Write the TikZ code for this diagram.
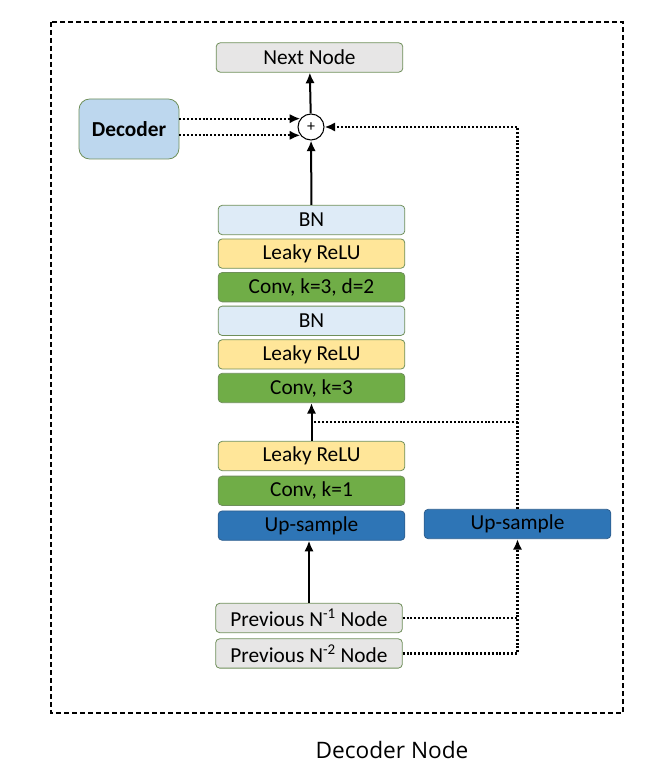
\documentclass[tikz,border=0pt]{standalone}
\usepackage{fontspec}
\setmainfont{Carlito}
\newfontfamily\titlefont{Open Sans}
\usetikzlibrary{positioning, arrows.meta, calc}
\definecolor{edgegreen}{HTML}{6F8F5A}
\definecolor{grayfill}{HTML}{E7E6E6}
\definecolor{bnfill}{HTML}{DEEBF7}
\definecolor{relufill}{HTML}{FFE699}
\definecolor{convfill}{HTML}{70AD47}
\definecolor{upfill}{HTML}{2E75B6}
\definecolor{upedge}{HTML}{2F5F8F}
\definecolor{decfill}{HTML}{BDD7EE}
\tikzset{
    >={Latex[length=8pt,width=7pt]}, % filled arrow heads
    layer/.style={draw=edgegreen, line width=0.6pt, rounded corners=3pt, minimum width=140pt, minimum height=22pt, inner sep=0pt, font=\fontsize{16}{19}\selectfont},
    bnlayer/.style={layer, fill=bnfill},
    relulayer/.style={layer, fill=relufill},
    convlayer/.style={layer, fill=convfill},
    uplayer/.style={layer, fill=upfill, draw=upedge},
    graylayer/.style={layer, fill=grayfill},
    flow/.style={->, line width=1.5pt},
    skip/.style={line width=1.6pt, dash pattern=on 1.5pt off 1.4pt}
}

\begin{document}
\begin{tikzpicture}[x=0.75pt, y=-0.75pt]
        \useasboundingbox (0,0) rectangle (658,780);
        \draw[line width=1.1pt, dash pattern=on 4pt off 2pt] (51,22) rectangle (623,713);

        \node[graylayer] (next) at (309.5,57.5) {Next Node};
        \node[circle, draw, line width=0.8pt, fill=white, minimum size=19.5pt, inner sep=0pt, font=\fontsize{12}{12}\selectfont] (plus) at (311,127) {+};
        \node[draw=edgegreen, line width=0.6pt, fill=decfill, rounded corners=8pt, minimum width=75pt, minimum height=45pt, font=\fontsize{16}{19}\selectfont\bfseries] (dec) at (129,129) {Decoder};

        \node[bnlayer] (bn2) at (311.5,220) {BN};
        \node[relulayer, below=2.6pt of bn2] (lr2) {Leaky ReLU};
        \node[convlayer, below=2.6pt of lr2] (cd2) {Conv, k=3, d=2};
        \node[bnlayer, below=2.6pt of cd2] (bn1) {BN};
        \node[relulayer, below=2.6pt of bn1] (lr1) {Leaky ReLU};
        \node[convlayer, below=2.6pt of lr1] (ck3) {Conv, k=3};

        \node[relulayer] (lr0) at (311.5,456) {Leaky ReLU};
        \node[convlayer, below=3.5pt of lr0] (ck1) {Conv, k=1};
        \node[uplayer, below=3.5pt of ck1] (up1) {Up-sample};
        \node[uplayer] (up2) at (517.5,524) {Up-sample};

        \node[graylayer] (prev1) at (309,618) {Previous N\textsuperscript{-1} Node};
        \node[graylayer, below=4pt of prev1] (prev2) {Previous N\textsuperscript{-2} Node};

        \node[font=\titlefont\fontsize{17}{20}\selectfont] (title) at (392,750) {Decoder Node};

        \coordinate (join) at ($(lr0.north)!0.5!(ck3.south)$);

        \draw[flow] (prev1) -- (prev1 |- up1.south);
        \draw[flow] (lr0) -- (lr0 |- ck3.south);
        \draw[flow] (bn2) -- (plus);
        \draw[flow] (plus) -- (next);

        \draw[skip, ->] (dec.east |- plus.142) -- (plus.142);
        \draw[skip, ->] (dec.east |- plus.218) -- (plus.218);
        \draw[skip, ->] (up2.north) -- (up2.north |- plus.east) -- (plus.east);
        \draw[skip] (up2.north |- join) -- (join);
        \draw[skip] (prev1.east) -- (prev1.east -| up2.south);
        \draw[skip, ->] (prev2.east) -- (prev2.east -| up2.south) -- (up2.south);

    \end{tikzpicture}
\end{document}
